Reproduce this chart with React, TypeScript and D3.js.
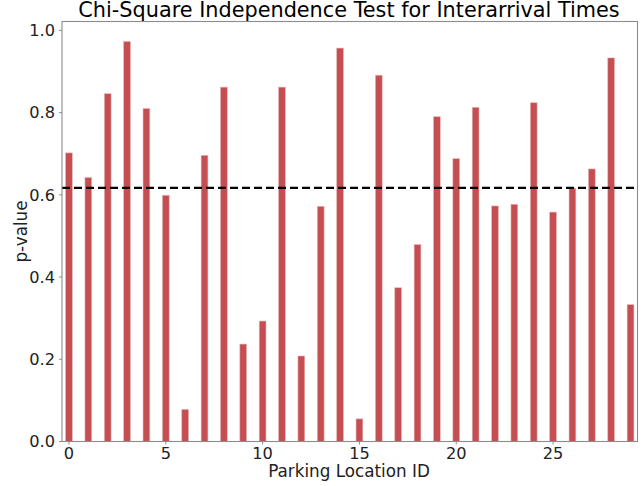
import React from "react";
import * as d3 from "d3";

const locationIds: number[] = Array.from({ length: 30 }, (_, i) => i);
const pValues: number[] = [
  0.702, 0.642, 0.846, 0.973, 0.81, 0.599, 0.078, 0.696, 0.862, 0.237,
  0.293, 0.862, 0.208, 0.572, 0.957, 0.055, 0.891, 0.374, 0.479, 0.79,
  0.688, 0.813, 0.573, 0.577, 0.824, 0.558, 0.616, 0.663, 0.933, 0.333,
];
const xTicks: number[] = [0, 5, 10, 15, 20, 25];
const yTicks: number[] = [0, 0.2, 0.4, 0.6, 0.8, 1.0];
const titleText = "Chi-Square Independence Test for Interarrival Times";
const xLabel = "Parking Location ID";
const yLabel = "p-value";

const W = 642;
const H = 486;
const M = { left: 62, right: 637.5, top: 21.5, bottom: 441.5 };
const FONT = "DejaVu Sans, sans-serif";
const BAR_W = 0.35;

export default function App() {
  const x = d3.scaleLinear().domain([-0.36, 29.36]).range([M.left, M.right]);
  const y = d3
    .scaleLinear()
    .domain([0, 0.973 * 1.05])
    .range([M.bottom, M.top]);
  const meanP = d3.mean(pValues) as number;
  const bw = x(BAR_W) - x(0);

  return (
    <svg
      width={W}
      height={H}
      style={{ position: "absolute", left: 0, top: 0, background: "#fff" }}
      fontFamily={FONT}
    >
      <text x={349} y={17} textAnchor="middle" fontSize={20.8} fill="#000">
        {titleText}
      </text>
      {locationIds.map((id, i) => (
        <rect
          key={id}
          x={x(id) - bw / 2}
          y={y(pValues[i])}
          width={bw}
          height={y(0) - y(pValues[i])}
          fill="#c44e52"
          stroke="#e8b4b5"
          strokeWidth={0.6}
        />
      ))}
      <line
        x1={M.left}
        x2={M.right}
        y1={y(meanP)}
        y2={y(meanP)}
        stroke="#000"
        strokeWidth={2.2}
        strokeDasharray="8,4"
      />
      <rect
        x={M.left}
        y={M.top}
        width={M.right - M.left}
        height={M.bottom - M.top}
        fill="none"
        stroke="#8c8c8c"
        strokeWidth={1.1}
      />
      {yTicks.map((t) => (
        <g key={t}>
          <line x1={M.left - 3} x2={M.left} y1={y(t)} y2={y(t)} stroke="#8c8c8c" />
          <text x={55} y={y(t)} dy="0.36em" textAnchor="end" fontSize={16.2} fill="#222">
            {t.toFixed(1)}
          </text>
        </g>
      ))}
      {xTicks.map((t) => (
        <g key={t}>
          <line x1={x(t)} x2={x(t)} y1={M.bottom} y2={M.bottom + 3} stroke="#8c8c8c" />
          <text x={x(t)} y={458.5} textAnchor="middle" fontSize={16.2} fill="#222">
            {t}
          </text>
        </g>
      ))}
      <text x={349} y={476.7} textAnchor="middle" fontSize={16.8} fill="#222">
        {xLabel}
      </text>
      <text
        transform={`translate(27,${(M.top + M.bottom) / 2}) rotate(-90)`}
        textAnchor="middle"
        fontSize={16.8}
        fill="#222"
      >
        {yLabel}
      </text>
    </svg>
  );
}
